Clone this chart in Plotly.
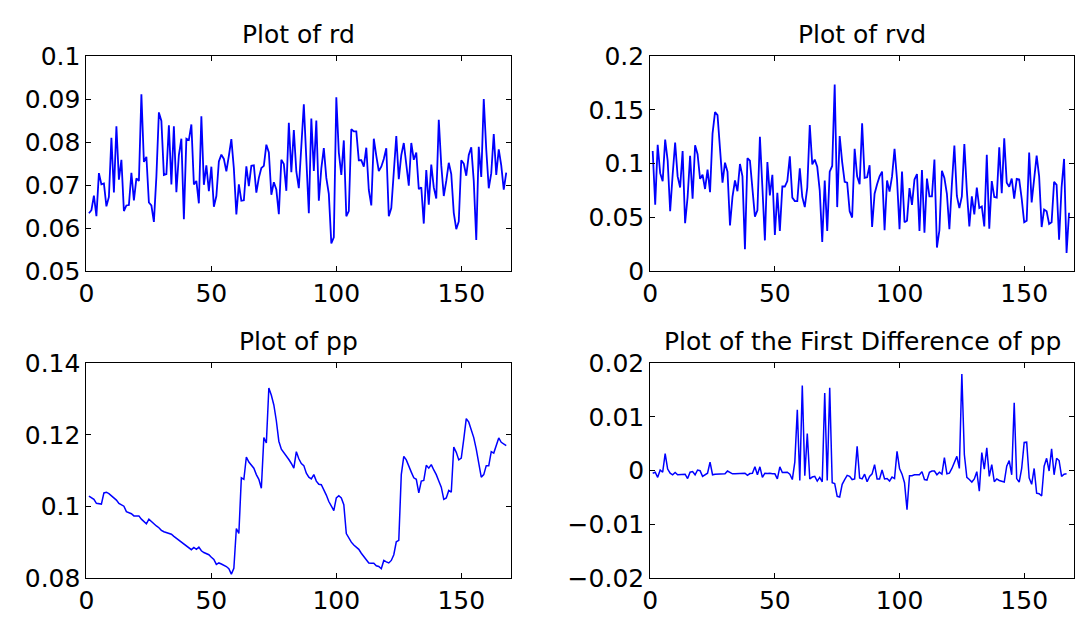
import plotly.graph_objects as go

# ---------------- data ----------------
rd = [
    0.0635, 0.0642, 0.0676, 0.0628, 0.0728, 0.0702, 0.0704, 0.0651, 0.0673, 0.0810,
    0.0683, 0.0837, 0.0713, 0.0759, 0.0640, 0.0653, 0.0654, 0.0729, 0.0665, 0.0716,
    0.0710, 0.0911, 0.0754, 0.0766, 0.0660, 0.0653, 0.0615, 0.0720, 0.0869, 0.0849,
    0.0724, 0.0726, 0.0839, 0.0702, 0.0837, 0.0684, 0.0770, 0.0808, 0.0621, 0.0808,
    0.0805, 0.0841, 0.0702, 0.0710, 0.0658, 0.0860, 0.0701, 0.0746, 0.0686, 0.0743,
    0.0650, 0.0675, 0.0755, 0.0771, 0.0761, 0.0732, 0.0768, 0.0807, 0.0739, 0.0632,
    0.0702, 0.0664, 0.0665, 0.0744, 0.0698, 0.0745, 0.0746, 0.0683, 0.0717, 0.0740,
    0.0745, 0.0794, 0.0776, 0.0678, 0.0707, 0.0690, 0.0633, 0.0759, 0.0749, 0.0687,
    0.0845, 0.0730, 0.0828, 0.0732, 0.0693, 0.0780, 0.0888, 0.0761, 0.0635, 0.0855,
    0.0733, 0.0850, 0.0664, 0.0739, 0.0786, 0.0717, 0.0680, 0.0565, 0.0579, 0.0904,
    0.0776, 0.0724, 0.0804, 0.0628, 0.0640, 0.0830, 0.0825, 0.0825, 0.0758, 0.0758,
    0.0743, 0.0787, 0.0689, 0.0653, 0.0808, 0.0768, 0.0733, 0.0743, 0.0761, 0.0786,
    0.0628, 0.0647, 0.0739, 0.0814, 0.0714, 0.0770, 0.0798, 0.0754, 0.0699, 0.0798,
    0.0759, 0.0776, 0.0691, 0.0695, 0.0611, 0.0735, 0.0655, 0.0748, 0.0695, 0.0669,
    0.0852, 0.0746, 0.0675, 0.0710, 0.0752, 0.0726, 0.0636, 0.0598, 0.0616, 0.0758,
    0.0750, 0.0722, 0.0770, 0.0788, 0.0710, 0.0573, 0.0789, 0.0719, 0.0900, 0.0783,
    0.0693, 0.0728, 0.0819, 0.0724, 0.0783, 0.0746, 0.0690, 0.0729,
]

rvd = [
    0.1118, 0.0618, 0.1176, 0.0912, 0.0838, 0.1224, 0.1029, 0.0559, 0.0897, 0.1197,
    0.0882, 0.0779, 0.1118, 0.0447, 0.0691, 0.1074, 0.0676, 0.1171, 0.1088, 0.0859,
    0.0897, 0.0765, 0.0944, 0.0735, 0.1279, 0.1479, 0.1450, 0.1132, 0.0824, 0.1009,
    0.0926, 0.0426, 0.0691, 0.0844, 0.0744, 0.0997, 0.0882, 0.0206, 0.1050, 0.1029,
    0.0765, 0.0509, 0.0568, 0.1250, 0.0779, 0.0288, 0.1015, 0.0706, 0.0897, 0.0338,
    0.0729, 0.0376, 0.0788, 0.0788, 0.0838, 0.1068, 0.0685, 0.0653, 0.0653, 0.0956,
    0.0691, 0.0597, 0.0779, 0.1359, 0.0994, 0.1038, 0.0971, 0.0750, 0.0274, 0.0844,
    0.0376, 0.0926, 0.0979, 0.1735, 0.0597, 0.1256, 0.1015, 0.0832, 0.0824, 0.0559,
    0.0500, 0.1138, 0.0882, 0.0809, 0.1374, 0.0868, 0.0874, 0.0985, 0.0412, 0.0721,
    0.0809, 0.0882, 0.0926, 0.0382, 0.0844, 0.0741, 0.0882, 0.1138, 0.0853, 0.0391,
    0.0926, 0.0456, 0.0471, 0.0774, 0.0618, 0.0853, 0.0903, 0.0376, 0.0941, 0.0359,
    0.0862, 0.0697, 0.0697, 0.1038, 0.0221, 0.0382, 0.0935, 0.0868, 0.0721, 0.0391,
    0.0809, 0.1168, 0.0700, 0.0588, 0.0697, 0.1182, 0.0750, 0.0418, 0.0697, 0.0529,
    0.0779, 0.0588, 0.0603, 0.0418, 0.1082, 0.0397, 0.0838, 0.0691, 0.0685, 0.1153,
    0.0726, 0.1235, 0.0824, 0.0785, 0.0862, 0.0676, 0.0859, 0.0853, 0.0676, 0.0456,
    0.0471, 0.1103, 0.0641, 0.0838, 0.1074, 0.0882, 0.0412, 0.0574, 0.0559, 0.0441,
    0.0456, 0.0832, 0.0803, 0.0294, 0.0779, 0.1044, 0.0171, 0.0544,
]

pp = [
    0.1029, 0.1024, 0.1020, 0.1009, 0.1009, 0.1007, 0.1038, 0.1040, 0.1036, 0.1030,
    0.1025, 0.1018, 0.1009, 0.1005, 0.1001, 0.0986, 0.0983, 0.0980, 0.0974, 0.0974,
    0.0974, 0.0965, 0.0958, 0.0952, 0.0965, 0.0958, 0.0952, 0.0946, 0.0941, 0.0934,
    0.0930, 0.0928, 0.0927, 0.0923, 0.0917, 0.0912, 0.0905, 0.0901, 0.0895, 0.0890,
    0.0886, 0.0880, 0.0886, 0.0881, 0.0887, 0.0877, 0.0872, 0.0870, 0.0866, 0.0859,
    0.0853, 0.0839, 0.0843, 0.0840, 0.0837, 0.0833, 0.0827, 0.0812, 0.0828, 0.0939,
    0.0925, 0.1080, 0.1076, 0.1138, 0.1124, 0.1115, 0.1107, 0.1089, 0.1076, 0.1051,
    0.1192, 0.1177, 0.1330, 0.1310, 0.1283, 0.1239, 0.1182, 0.1160, 0.1151, 0.1142,
    0.1131, 0.1120, 0.1107, 0.1153, 0.1133, 0.1120, 0.1114, 0.1093, 0.1082, 0.1077,
    0.1089, 0.1071, 0.1062, 0.1061, 0.1047, 0.1032, 0.1014, 0.1003, 0.0989, 0.1024,
    0.1030, 0.1024, 0.1005, 0.0925, 0.0912, 0.0901, 0.0893, 0.0886, 0.0881, 0.0870,
    0.0861, 0.0849, 0.0843, 0.0842, 0.0842, 0.0835, 0.0833, 0.0827, 0.0850, 0.0846,
    0.0843, 0.0850, 0.0866, 0.0902, 0.0906, 0.1089, 0.1140, 0.1130, 0.1115, 0.1096,
    0.1080, 0.1076, 0.1038, 0.1071, 0.1073, 0.1115, 0.1107, 0.1117, 0.1102, 0.1089,
    0.1071, 0.1054, 0.1020, 0.1024, 0.1045, 0.1040, 0.1166, 0.1151, 0.1130, 0.1135,
    0.1188, 0.1245, 0.1235, 0.1211, 0.1192, 0.1160, 0.1124, 0.1082, 0.1089, 0.1114,
    0.1114, 0.1153, 0.1149, 0.1168, 0.1191, 0.1179, 0.1175, 0.1170,
]

dpp = [
    -0.00047, -0.00029, -0.00124, 0.00012, -0.00029, 0.00318, 0.00029, -0.00047, -0.00076, -0.00035,
    -0.00076, -0.00076, -0.00065, -0.00065, -0.00147, -0.00029, -0.00018, -0.00076, 0.00012, 0.00000,
    -0.00106, -0.00076, -0.00047, 0.00159, -0.00076, -0.00065, -0.00065, -0.00065, -0.00065, -0.00059,
    -0.00006, -0.00029, -0.00059, -0.00059, -0.00059, -0.00059, -0.00053, -0.00047, -0.00088, -0.00053,
    -0.00047, 0.00071, -0.00076, 0.00071, -0.00124, -0.00047, -0.00053, -0.00047, -0.00059, -0.00059,
    -0.00153, 0.00071, -0.00035, -0.00035, -0.00029, -0.00065, -0.00165, 0.00159, 0.01129, -0.00182,
    0.01582, -0.00094, 0.00688, -0.00153, -0.00118, -0.00106, -0.00194, -0.00124, -0.00206, 0.01441,
    -0.00182, 0.01541, -0.00224, -0.00241, -0.00476, -0.00488, -0.00253, -0.00165, -0.00088, -0.00106,
    -0.00165, -0.00153, 0.00453, -0.00135, -0.00153, -0.00065, -0.00206, -0.00106, -0.00059, 0.00112,
    -0.00153, -0.00153, 0.00012, -0.00153, -0.00147, -0.00194, -0.00118, -0.00147, 0.00359, 0.00041,
    -0.00065, -0.00224, -0.00724, -0.00094, -0.00094, -0.00076, -0.00076, -0.00076, -0.00018, -0.00165,
    -0.00176, -0.00029, -0.00006, -0.00006, -0.00076, -0.00029, -0.00065, 0.00241, -0.00059, -0.00047,
    0.00041, 0.00171, 0.00265, 0.00041, 0.01794, 0.00300, -0.00124, -0.00165, -0.00212, -0.00153,
    -0.00018, -0.00382, 0.00335, 0.00029, 0.00424, -0.00106, 0.00112, -0.00206, -0.00153, -0.00182,
    -0.00194, -0.00212, 0.00082, 0.00188, -0.00076, 0.01259, -0.00147, -0.00212, 0.00041, 0.00524,
    0.00529, -0.00135, -0.00253, 0.00041, -0.00418, -0.00429, -0.00471, 0.00082, 0.00229, -0.00006,
    0.00406, -0.00076, 0.00229, 0.00188, -0.00106, -0.00065, -0.00059,
]

titles = ["Plot of rd", "Plot of rvd", "Plot of pp",
          "Plot of the First Difference of pp"]

x_tickvals = [0, 50, 100, 150]
x_ticktext = ["0", "50", "100", "150"]

rd_ticks = [0.05, 0.06, 0.07, 0.08, 0.09, 0.1]
rd_labels = ["0.05", "0.06", "0.07", "0.08", "0.09", "0.1"]
rvd_ticks = [0, 0.05, 0.1, 0.15, 0.2]
rvd_labels = ["0", "0.05", "0.1", "0.15", "0.2"]
pp_ticks = [0.08, 0.1, 0.12, 0.14]
pp_labels = ["0.08", "0.1", "0.12", "0.14"]
dpp_ticks = [-0.02, -0.01, 0, 0.01, 0.02]
dpp_labels = ["\u22120.02", "\u22120.01", "0", "0.01", "0.02"]

# ---------------- figure ----------------
W, H = 1080, 622
FONT = "DejaVu Sans"
BLUE = "#0000ff"

# panel pixel boxes: (left, right, top, bottom)
boxes = [(79, 507, 44, 270), (647, 1074, 44, 270),
         (79, 507, 366, 592), (647, 1074, 366, 592)]

series = [rd, rvd, pp, dpp]
yranges = [[0.05, 0.1], [0, 0.2], [0.08, 0.14], [-0.02, 0.02]]
yticks = [(rd_ticks, rd_labels), (rvd_ticks, rvd_labels),
          (pp_ticks, pp_labels), (dpp_ticks, dpp_labels)]
lw = [1.8, 1.8, 1.5, 1.5]

fig = go.Figure()
layout = dict(width=W, height=H, margin=dict(l=0, r=0, t=0, b=0),
              paper_bgcolor="white", plot_bgcolor="white", showlegend=False,
              font=dict(family=FONT, color="black"))
annotations = []

for i, (vals, box) in enumerate(zip(series, boxes)):
    n = i + 1
    xa = "x" if n == 1 else f"x{n}"
    ya = "y" if n == 1 else f"y{n}"
    xs = list(range(1, len(vals) + 1))
    fig.add_trace(go.Scatter(x=xs, y=vals, mode="lines", xaxis=xa, yaxis=ya,
                             line=dict(color=BLUE, width=lw[i]),
                             hoverinfo="skip"))
    l, r, t, b = box
    axis_common = dict(showline=True, linecolor="black", linewidth=1,
                       mirror="ticks", ticks="inside", ticklen=5,
                       tickcolor="black", tickwidth=1, showgrid=False,
                       zeroline=False, tickfont=dict(family=FONT, size=25,
                                                     color="black"))
    layout["xaxis" if n == 1 else f"xaxis{n}"] = dict(
        domain=[l / W, r / W], anchor=ya, range=[0, 170],
        tickvals=x_tickvals, ticktext=x_ticktext, **axis_common)
    layout["yaxis" if n == 1 else f"yaxis{n}"] = dict(
        domain=[1 - b / H, 1 - t / H], anchor=xa, range=yranges[i],
        tickvals=yticks[i][0], ticktext=yticks[i][1], **axis_common)
    annotations.append(dict(text=titles[i], x=(l + r) / 2 / W,
                            y=1 - (t - 23) / H, xref="paper", yref="paper",
                            xanchor="center", yanchor="middle", showarrow=False,
                            font=dict(family=FONT, size=25, color="black")))

layout["annotations"] = annotations
fig.update_layout(**layout)
fig.write_html("out.html")
